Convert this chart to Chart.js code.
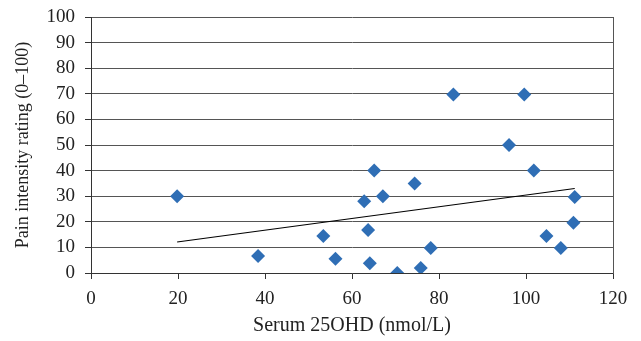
<!DOCTYPE html>
<html><head><meta charset="utf-8">
<script src="https://cdn.jsdelivr.net/npm/chart.js@4/dist/chart.umd.min.js"></script>
<style>html,body{margin:0;padding:0;background:#fff}#wrap{width:641px;height:341px}</style>
</head><body><div id="wrap"><canvas id="c" width="641" height="341"></canvas></div>
<script>
const serum25OHD = [19.8, 38.4, 53.4, 56.2, 62.8, 63.7, 64.1, 65.1, 67.1, 70.4, 74.4, 75.8, 78.1, 83.3, 96.1, 99.6, 101.8, 104.7, 108.0, 110.9, 111.2];
const painRating = [30, 6.6, 14.5, 5.6, 28, 16.8, 3.8, 40, 30, 0, 35, 2, 9.8, 69.7, 50, 69.7, 40, 14.5, 9.8, 19.6, 29.7];
const trendX = [19.8, 111.2];
const trendY = [12.1, 33.0];
const xTicks = [0, 20, 40, 60, 80, 100, 120];
const yTicks = [0, 10, 20, 30, 40, 50, 60, 70, 80, 90, 100];

const fam = "'Liberation Serif', 'DejaVu Serif', serif";
const tickFont = {family: fam, size: 19};
const pts = serum25OHD.map((x, i) => ({x, y: painRating[i]}));
const trend = trendX.map((x, i) => ({x, y: trendY[i]}));

new Chart(document.getElementById('c'), {
  type: 'scatter',
  data: {datasets: [
    {data: pts, pointStyle: 'rectRot', pointRadius: 7, pointHoverRadius: 7,
     backgroundColor: '#2f6eb5', borderColor: '#2f6eb5', borderWidth: 0, order: 1},
    {type: 'line', data: trend, showLine: true, borderColor: '#000', borderWidth: 1.2,
     pointRadius: 0, fill: false, order: 2}
  ]},
  options: {
    responsive: false, animation: false,
    layout: {padding: {left: 0, right: 0, top: 17, bottom: 0}},
    plugins: {legend: {display: false}, tooltip: {enabled: false}},
    scales: {
      x: {type: 'linear', min: 0, max: 120,
          afterBuildTicks: s => { s.ticks = xTicks.map(v => ({value: v})); },
          afterFit: s => { s.height = 68; s.paddingLeft = 0; s.paddingRight = 0; },
          grid: {drawOnChartArea: false, drawTicks: true, tickLength: 6, color: '#333'},
          border: {color: '#333', width: 1},
          ticks: {font: tickFont, color: '#222', padding: 9, maxRotation: 0, autoSkip: false},
          title: {display: true, text: 'Serum 25OHD (nmol/L)', font: {family: fam, size: 20}, color: '#222', padding: {top: 0, bottom: 3}}
      },
      y: {type: 'linear', min: 0, max: 100,
          afterBuildTicks: s => { s.ticks = yTicks.map(v => ({value: v})); },
          afterFit: s => { s.width = 91; s.paddingTop = 0; s.paddingBottom = 0; },
          grid: {color: '#555', lineWidth: 1, tickLength: 6, tickColor: '#333'},
          border: {color: '#333', width: 1},
          ticks: {font: tickFont, color: '#222', padding: 10, autoSkip: false},
          title: {display: true, text: 'Pain intensity rating (0–100)', font: {family: fam, size: 18}, color: '#222', padding: {top: 12, bottom: 0}}
      },
      y2: {type: 'linear', position: 'right', min: 0, max: 100,
           afterFit: s => { s.width = 28; s.paddingTop = 0; s.paddingBottom = 0; },
           grid: {drawOnChartArea: false, drawTicks: false},
           border: {color: '#555', width: 1},
           ticks: {display: false}
      }
    }
  }
});
</script></body></html>
